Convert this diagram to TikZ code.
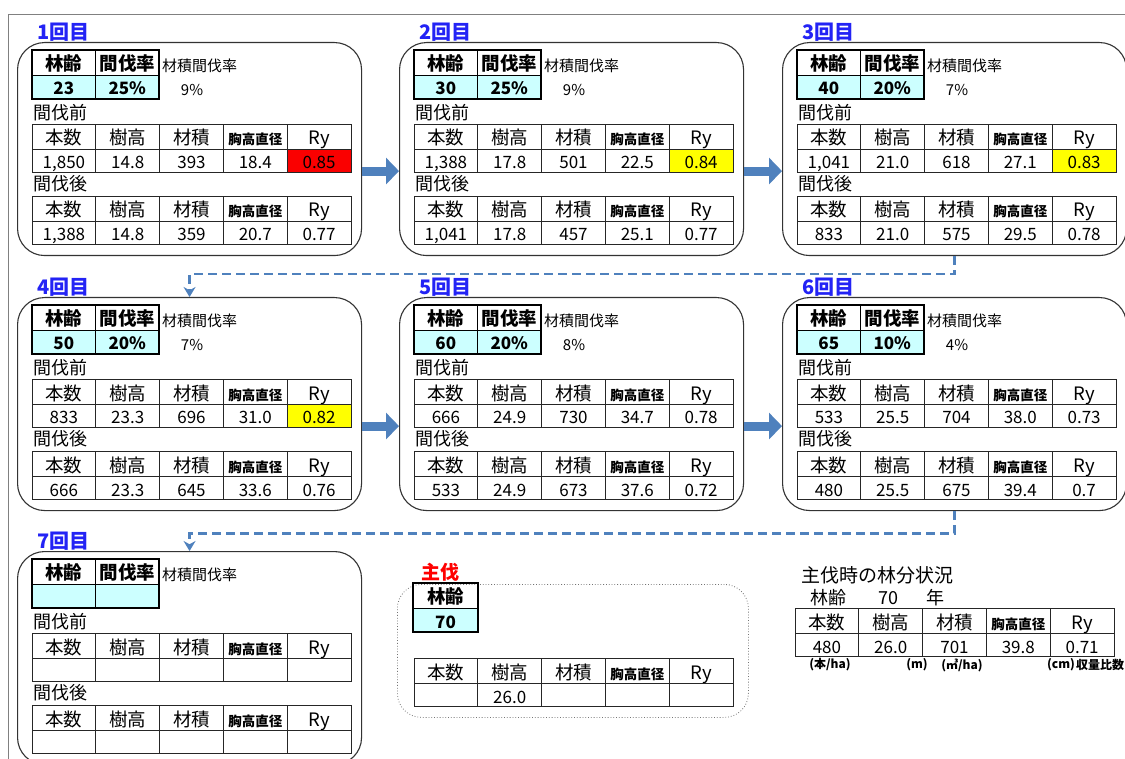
\documentclass[tikz,border=0pt]{standalone}
\usepackage{fontspec}
\setmainfont{Noto Sans CJK JP}
\usepackage{xcolor}
\usetikzlibrary{positioning, arrows.meta}

\definecolor{cellcyan}{RGB}{204,255,255}
\definecolor{ryred}{RGB}{250,0,0}
\definecolor{ryyellow}{RGB}{255,255,0}
\definecolor{linkblue}{RGB}{79,129,189}
\definecolor{labelblue}{RGB}{35,35,245}

\newcommand{\fsz}[1]{\fontsize{#1}{#1}\selectfont}
\newcommand{\kyo}{\fsz{13.5}\bfseries}

% one thinning step: name, X, Y, label, age, rate, volume rate
\newcommand{\stage}[7]{
  \node[stagebox, anchor=north west] (#1) at ({#2-15},{#3-8}) {};
  \node[kailabel, anchor=west] (#1lab) at ({#2+5},{#3-18}) {#4};
  \node[agehead, anchor=north west] (#1age) at (#2,#3) {林齢};
  \node[agehead, right=0pt of #1age] (#1rate) {間伐率};
  \node[ageval, below=0pt of #1age] (#1agev) {#5};
  \node[ageval, below=0pt of #1rate] (#1ratev) {#6};
  \draw[ageframe] (#1age.north west) rectangle (#1ratev.south east);
  \node[note, anchor=west] (#1vr) at ({#2+130},{#3+16}) {材積間伐率};
  \node[note] (#1vp) at ({#2+160},{#3+40}) {#7};
  \node[section, anchor=west] (#1mae) at ({#2+1},{#3+63}) {間伐前};
  \node[section, anchor=west] (#1ato) at ({#2+1},{#3+134}) {間伐後};
}

% stand table: name, X, Y, five values, Ry colour
\newcommand{\datatable}[9]{
  \foreach \hd [count=\i] in {本数,樹高,材積,{\kyo 胸高直径},Ry}
    \node[headcell] (#1h\i) at ({#2+(\i-0.5)*63.8},{#3+12.5}) {\hd};
  \foreach \v [count=\i] in {{#4},{#5},{#6},{#7},{#8}}{
    \ifnum\i=5 \def\cf{#9}\else\def\cf{white}\fi
    \node[valcell, fill=\cf] (#1v\i) at ({#2+(\i-0.5)*63.8},{#3+36.5}) {\v};
  }
}

\begin{document}
\begin{tikzpicture}[x=1pt, y=-1pt]
    \tikzset{
        stagebox/.style = {draw=black!80, line width=1.1pt, rounded corners=27pt, minimum width=344pt, minimum height=213pt, inner sep=0pt},
        mainbox/.style  = {draw=black!55, line width=0.8pt, dotted, rounded corners=24pt, minimum width=351pt, minimum height=133pt, inner sep=0pt},
        kailabel/.style = {text=labelblue, font=\fsz{20}\bfseries, inner sep=0pt},
        agehead/.style  = {draw, line width=0.7pt, minimum width=63.5pt, minimum height=25pt, inner sep=0pt, outer sep=0pt, font=\fsz{18.5}\bfseries, text height=17pt, text depth=1pt},
        ageval/.style   = {agehead, fill=cellcyan, minimum height=24pt, font=\fsz{17}\bfseries},
        ageframe/.style = {line width=1.8pt},
        note/.style     = {inner sep=0pt, font=\fsz{15}},
        section/.style  = {inner sep=0pt, font=\fsz{18}},
        headcell/.style = {draw=black!85, line width=0.7pt, minimum width=63.8pt, minimum height=25pt, inner sep=0pt, outer sep=0pt, font=\fsz{18.5}, text height=18pt, text depth=1pt},
        valcell/.style  = {headcell, minimum height=23pt, font=\fsz{17}},
        unit/.style     = {inner sep=0pt, font=\fsz{12}\bfseries},
        bigarrow/.style = {draw=linkblue, line width=9pt, -{Triangle[length=13pt,width=26pt]}},
        dashlink/.style = {draw=linkblue, line width=2.8pt, dash pattern=on 9pt off 5pt, -{Stealth[length=10pt,width=12pt]}}
    }
    \clip (0,0) rectangle (1125,759);
    \fill[white] (0,0) rectangle (1125,759);
    \draw[black!50, line width=0.8pt] (8,759) -- (8,14) -- (1125,14);

    % 間伐 1回目 - 3回目
    \stage{s1}{32}{50}{1回目}{23}{25\%}{9\%}
    \datatable{s1bef}{32}{124}{1,850}{14.8}{393}{18.4}{0.85}{ryred}
    \datatable{s1aft}{32}{196}{1,388}{14.8}{359}{20.7}{0.77}{white}
    \stage{s2}{414}{50}{2回目}{30}{25\%}{9\%}
    \datatable{s2bef}{414}{124}{1,388}{17.8}{501}{22.5}{0.84}{ryyellow}
    \datatable{s2aft}{414}{196}{1,041}{17.8}{457}{25.1}{0.77}{white}
    \stage{s3}{797}{50}{3回目}{40}{20\%}{7\%}
    \datatable{s3bef}{797}{124}{1,041}{21.0}{618}{27.1}{0.83}{ryyellow}
    \datatable{s3aft}{797}{196}{833}{21.0}{575}{29.5}{0.78}{white}

    % 間伐 4回目 - 6回目
    \stage{s4}{32}{305}{4回目}{50}{20\%}{7\%}
    \datatable{s4bef}{32}{379}{833}{23.3}{696}{31.0}{0.82}{ryyellow}
    \datatable{s4aft}{32}{451}{666}{23.3}{645}{33.6}{0.76}{white}
    \stage{s5}{414}{305}{5回目}{60}{20\%}{8\%}
    \datatable{s5bef}{414}{379}{666}{24.9}{730}{34.7}{0.78}{white}
    \datatable{s5aft}{414}{451}{533}{24.9}{673}{37.6}{0.72}{white}
    \stage{s6}{797}{305}{6回目}{65}{10\%}{4\%}
    \datatable{s6bef}{797}{379}{533}{25.5}{704}{38.0}{0.73}{white}
    \datatable{s6aft}{797}{451}{480}{25.5}{675}{39.4}{0.7}{white}

    % 間伐 7回目 (空欄)
    \stage{s7}{32}{559}{7回目}{}{}{}
    \datatable{s7bef}{32}{633}{}{}{}{}{}{white}
    \datatable{s7aft}{32}{705}{}{}{}{}{}{white}

    % 主伐
    \node[mainbox, anchor=north west] (shu) at (397,584) {};
    \node[inner sep=0pt, text=red, font=\fsz{19}\bfseries] (shulab) at (440,572) {主伐};
    \node[agehead, minimum width=65pt, anchor=north west] (shuage) at (413,583) {林齢};
    \node[ageval, minimum width=65pt, below=0pt of shuage] (shuagev) {70};
    \draw[ageframe] (shuage.north west) rectangle (shuagev.south east);
    \datatable{shutab}{414}{658}{}{26.0}{}{}{}{white}

    % 主伐時の林分状況
    \node[section, font=\fsz{19}, anchor=west] (sumtitle) at (801,575) {主伐時の林分状況};
    \node[section, anchor=west] (sumage) at (810,598) {林齢};
    \node[section] (sumagev) at (888,598) {70};
    \node[section] (sumnen) at (935,598) {年};
    \datatable{sum}{795}{608}{480}{26.0}{701}{39.8}{0.71}{white}
    \node[unit] (u1) at (830,665) {(本/ha)};
    \node[unit] (u2) at (917,665) {(m)};
    \node[unit] (u3) at (962,665) {(㎥/ha)};
    \node[unit] (u4) at (1061,665) {(cm)};
    \node[unit] (u5) at (1100,665) {収量比数};

    % 矢印
    \draw[bigarrow] ([yshift=-22pt]s1.east) -- ([yshift=-22pt]s2.west);
    \draw[bigarrow] ([yshift=-22pt]s2.east) -- ([yshift=-22pt]s3.west);
    \draw[bigarrow] ([yshift=-22pt]s4.east) -- ([yshift=-22pt]s5.west);
    \draw[bigarrow] ([yshift=-22pt]s5.east) -- ([yshift=-22pt]s6.west);
    \draw[dashlink] (s3.south) -- ++(0,18) -| (s4.north);
    \draw[dashlink] (s6.south) -- ++(0,22) -| (s7.north);
\end{tikzpicture}
\end{document}
